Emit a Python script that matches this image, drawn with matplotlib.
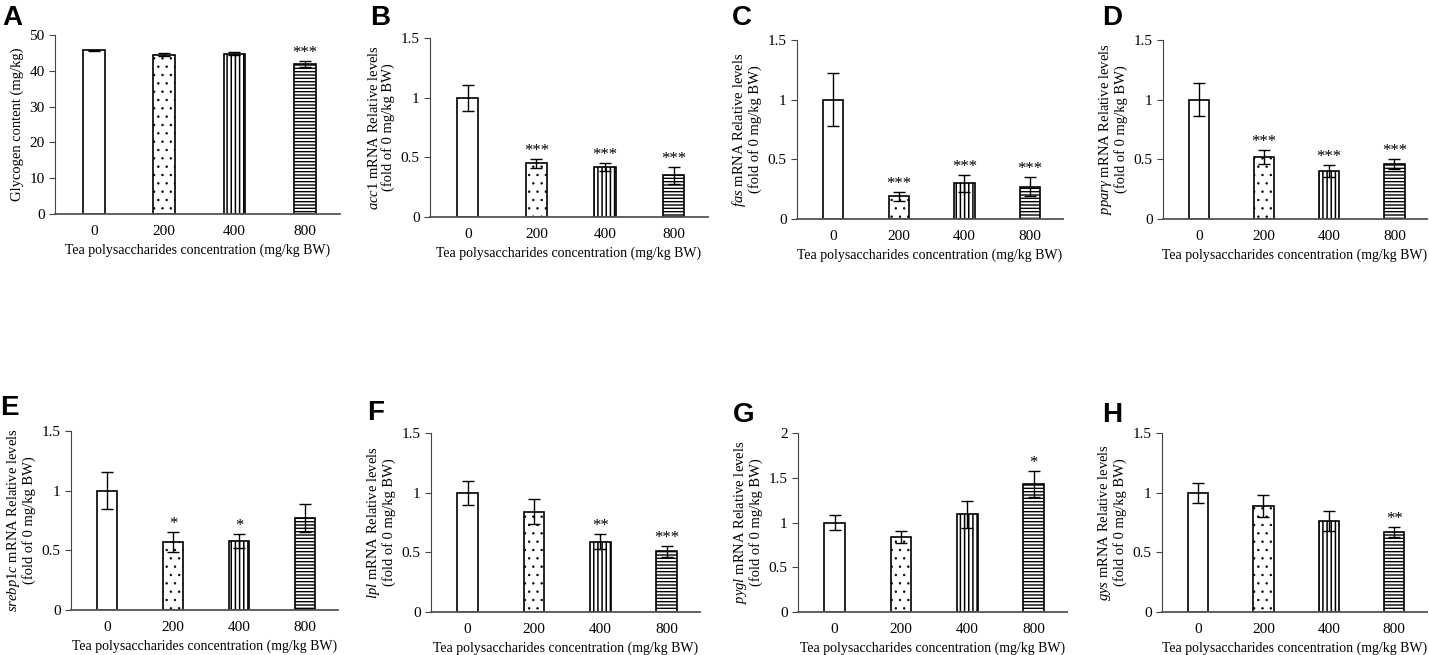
import matplotlib
matplotlib.use("Agg")
import matplotlib.pyplot as plt
from matplotlib.ticker import FuncFormatter

plt.rcParams['font.family'] = 'Liberation Serif'
plt.rcParams['mathtext.fontset'] = 'custom'
plt.rcParams['mathtext.rm'] = 'Liberation Serif'
plt.rcParams['mathtext.it'] = 'Liberation Serif:italic'

# Data
doses = ["0", "200", "400", "800"]

glycogen = [45.7, 44.5, 44.8, 42.0]
glycogen_err = [0.2, 0.5, 0.4, 0.8]
glycogen_sig = ["", "", "", "***"]

acc1 = [1.0, 0.45, 0.42, 0.35]
acc1_err = [0.11, 0.04, 0.035, 0.07]
acc1_sig = ["", "***", "***", "***"]

fas = [1.0, 0.19, 0.30, 0.27]
fas_err = [0.22, 0.04, 0.07, 0.08]
fas_sig = ["", "***", "***", "***"]

pparg = [1.0, 0.52, 0.40, 0.46]
pparg_err = [0.14, 0.06, 0.05, 0.04]
pparg_sig = ["", "***", "***", "***"]

srebp1c = [1.0, 0.57, 0.58, 0.77]
srebp1c_err = [0.155, 0.085, 0.06, 0.12]
srebp1c_sig = ["", "*", "*", ""]

lpl = [1.0, 0.84, 0.59, 0.51]
lpl_err = [0.10, 0.105, 0.065, 0.045]
lpl_sig = ["", "", "**", "***"]

pygl = [1.0, 0.84, 1.09, 1.43]
pygl_err = [0.08, 0.07, 0.155, 0.14]
pygl_sig = ["", "", "", "*"]

gys = [1.0, 0.89, 0.76, 0.67]
gys_err = [0.085, 0.09, 0.085, 0.045]
gys_sig = ["", "", "", "**"]

sub = "\n(fold of 0 mg/kg BW)"
panels = [
    ("A", glycogen, glycogen_err, glycogen_sig, "Glycogen content (mg/kg)", 50, 10, (55, 340, 35, 214)),
    ("B", acc1, acc1_err, acc1_sig, r"$\mathit{acc1}$ mRNA Relative levels" + sub, 1.5, 0.5, (430, 708, 38, 217)),
    ("C", fas, fas_err, fas_sig, r"$\mathit{fas}$ mRNA Relative levels" + sub, 1.5, 0.5, (797, 1063, 40, 219)),
    ("D", pparg, pparg_err, pparg_sig, r"$\mathit{ppar\gamma}$ mRNA Relative levels" + sub, 1.5, 0.5, (1163, 1427, 40, 219)),
    ("E", srebp1c, srebp1c_err, srebp1c_sig, r"$\mathit{srebp1c}$ mRNA Relative levels" + sub, 1.5, 0.5, (71, 338, 431, 610)),
    ("F", lpl, lpl_err, lpl_sig, r"$\mathit{lpl}$ mRNA Relative levels" + sub, 1.5, 0.5, (431, 700, 433, 612)),
    ("G", pygl, pygl_err, pygl_sig, r"$\mathit{pygl}$ mRNA Relative levels" + sub, 2, 0.5, (798, 1067, 433, 612)),
    ("H", gys, gys_err, gys_sig, r"$\mathit{gys}$ mRNA Relative levels" + sub, 1.5, 0.5, (1162, 1427, 433, 612)),
]
letter_pos = {"A": (2, 5), "B": (370, 5), "C": (732, 5), "D": (1102, 5),
              "E": (0, 395), "F": (367, 400), "G": (733, 402), "H": (1102, 402)}

hatches = ["", "..", "||||", "-----"]
hatch_lw = [1.0, 0.5, 1.1, 1.0]

W, H = 1429, 655
fig = plt.figure(figsize=(W / 100, H / 100), dpi=100)

for letter, vals, errs, sigs, ylabel, ymax, step, (l, r, t, b) in panels:
    ax = fig.add_axes([l / W, 1 - b / H, (r - l) / W, (b - t) / H])
    x = list(range(len(doses)))
    for i in x:
        with plt.rc_context({"hatch.linewidth": hatch_lw[i]}):
            ax.bar(i, vals[i], width=0.31, color="white", edgecolor="black",
                   linewidth=1.2, hatch=hatches[i], zorder=2)
    ax.errorbar(x, vals, yerr=errs, fmt="none", ecolor="black", elinewidth=1.0,
                capsize=4, capthick=1.0, zorder=3)
    for i, s in enumerate(sigs):
        if s:
            ax.annotate(s, (i, vals[i] + errs[i]), xytext=(0, 0), textcoords="offset points",
                        ha="center", va="bottom", fontsize=12)
    ax.set_xlim(-0.55, 3.5)
    ax.set_ylim(0, ymax)
    ticks = [k * step for k in range(int(round(ymax / step)) + 1)]
    ax.set_yticks(ticks)
    ax.yaxis.set_major_formatter(FuncFormatter(lambda v, p: f"{v:g}"))
    ax.set_xticks(x)
    ax.set_xticklabels(doses)
    ax.tick_params(axis="x", length=0, labelsize=11, pad=8)
    ax.tick_params(axis="y", length=4, labelsize=11, color="#444444")
    ax.spines["top"].set_visible(False)
    ax.spines["right"].set_visible(False)
    ax.spines["left"].set_color("#444444")
    ax.spines["bottom"].set_color("#555555")
    ax.spines["bottom"].set_linewidth(1.3)
    ax.set_xlabel("Tea polysaccharides concentration (mg/kg BW)", fontsize=10, labelpad=4)
    ax.set_ylabel(ylabel, fontsize=10.5, linespacing=1.0)
    lx, ly = letter_pos[letter]
    fig.text(lx / W, 1 - ly / H, letter, fontsize=20, fontweight="bold",
             family="Liberation Sans", ha="left", va="top")

fig.savefig("out.png", dpi=100)
